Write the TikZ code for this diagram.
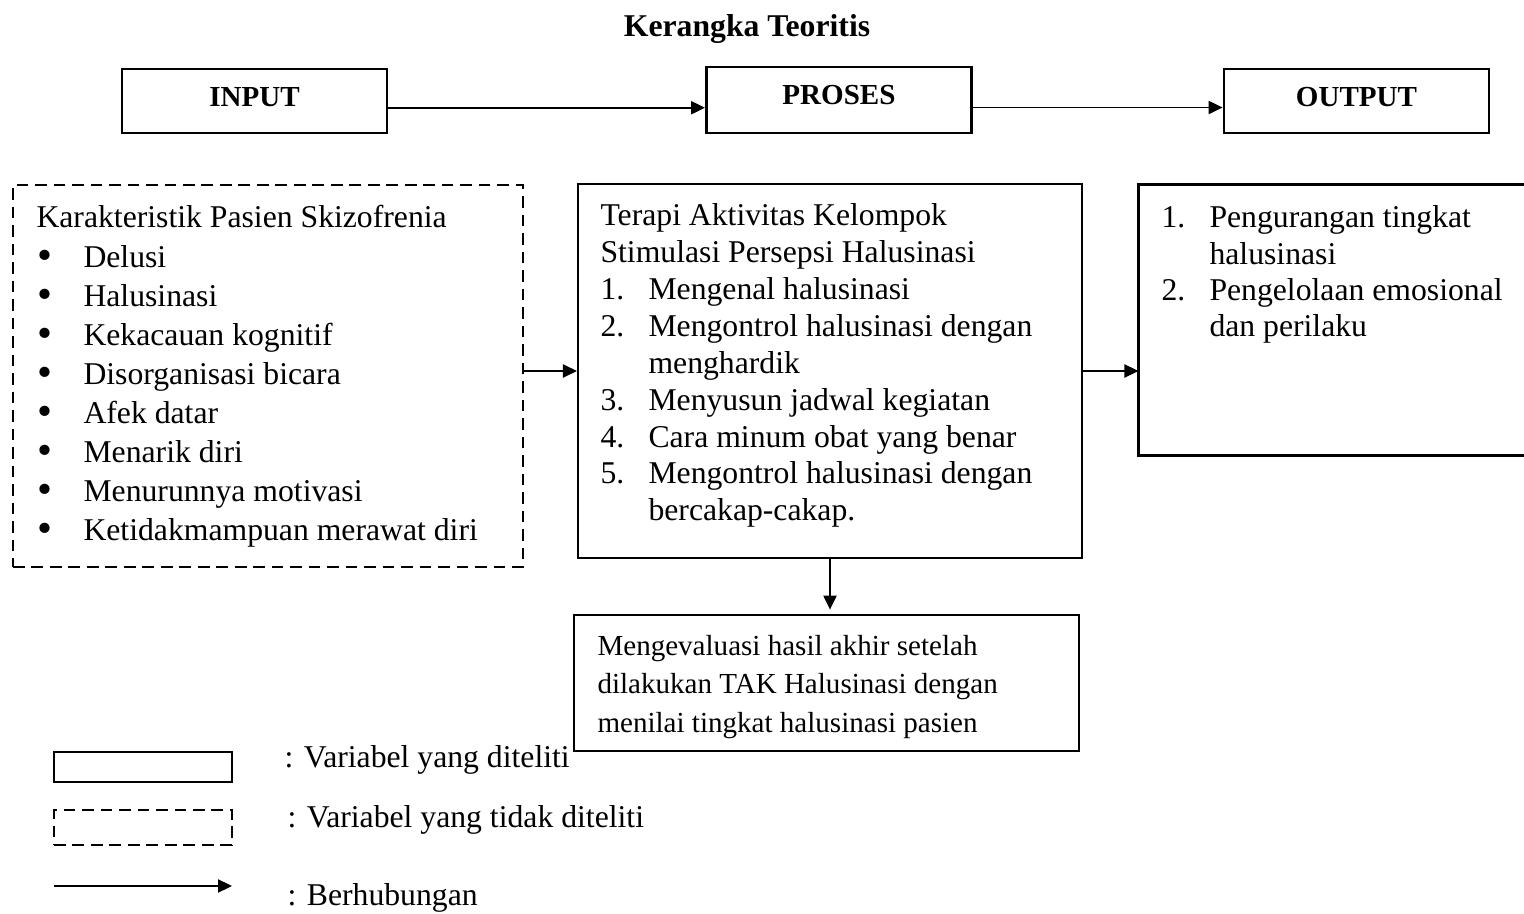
\documentclass[tikz,border=0pt]{standalone}
\usepackage{fontspec}
\setmainfont{Liberation Serif}
\usetikzlibrary{arrows.meta}
\usetikzlibrary{positioning}
\usetikzlibrary{fit}
\tikzset{>={Triangle[length=5.3pt,width=5pt]}}
\newlength{\pxu}
\setlength{\pxu}{0.0133cm}
\tikzset{
    frame/.style={draw, line width=#1, inner sep=0pt},
    frame/.default={0.9pt},
    dframe/.style={draw, line width=1pt, inner sep=0pt, dash pattern=on 4.4pt off 2.6pt},
    hdbox/.style={draw, line width=1.1pt, inner sep=0pt, minimum width=265\pxu, minimum height=64\pxu,
        font=\bfseries\fontsize{11}{13}\selectfont, text depth=3pt},
    arr/.style={->, line width=0.6pt},
    listtxt/.style={anchor=base west, inner sep=0pt},
}
\newcommand{\blt}{\makebox[47\pxu][l]{\hspace{0.8\pxu}\raisebox{-0.8pt}{\scalebox{1.35}{\textbullet}}}}
\newcommand{\nmr}[1]{\makebox[48\pxu][l]{#1}}

\begin{document}
\begin{tikzpicture}[x=0.0133cm, y=-0.0133cm] % kerangka teoritis
	\useasboundingbox (0,0) rectangle (1524,914);
	\node[font=\bfseries\fontsize{12}{14}\selectfont, anchor=base] (judul) at (747,37) {Kerangka Teoritis};
	% baris atas
	\node[hdbox] (input) at (254.5,101) {INPUT};
	\node[hdbox, minimum height=66\pxu, text depth=3.8pt] (proses) at (839,100) {PROSES};
	\node[hdbox] (output) at (1356.5,101) {OUTPUT};
	\coordinate (a1) at ([yshift=-0.09cm]input.east);
	\coordinate (a2) at ([yshift=-0.1cm]proses.east);
	\draw[arr] (a1) -- (a1 -| proses.west);
	\draw[arr] (a2) -- (a2 -| output.west);
	% kotak isi
	\node[dframe, fit={(13,185) (523,567)}] (krt) {};
	\node[frame=0.8pt, fit={(578,184) (1082,558)}] (tak) {};
	\node[inner sep=0pt, fit={(1139,185) (1524,455)}] (hasil) {};
	\draw[line width=1pt] (hasil.north east) -- (hasil.north west) -- (hasil.south west) -- (hasil.south east);
	\node[frame=1.1pt, fit={(574,615) (1079,751)}] (eval) {};
	\node[listtxt, font=\fontsize{12}{14.8}\selectfont] (krttxt) at (36,228) {%
		\begin{tabular}[t]{@{}l@{}l@{}}
		\multicolumn{2}{@{}l@{}}{Karakteristik Pasien Skizofrenia}\\
		\blt & Delusi\\
		\blt & Halusinasi\\
		\blt & Kekacauan kognitif\\
		\blt & Disorganisasi bicara\\
		\blt & Afek datar\\
		\blt & Menarik diri\\
		\blt & Menurunnya motivasi\\
		\blt & Ketidakmampuan merawat diri
		\end{tabular}};
	\node[listtxt, font=\fontsize{12}{13.95}\selectfont] (taktxt) at (600,226) {%
		\begin{tabular}[t]{@{}l@{}l@{}}
		\multicolumn{2}{@{}l@{}}{Terapi Aktivitas Kelompok}\\
		\multicolumn{2}{@{}l@{}}{Stimulasi Persepsi Halusinasi}\\
		\nmr{1.} & Mengenal halusinasi\\
		\nmr{2.} & Mengontrol halusinasi dengan\\
		 & menghardik\\
		\nmr{3.} & Menyusun jadwal kegiatan\\
		\nmr{4.} & Cara minum obat yang benar\\
		\nmr{5.} & Mengontrol halusinasi dengan\\
		 & bercakap-cakap.
		\end{tabular}};
	\node[listtxt, font=\fontsize{12}{13.7}\selectfont] (hasiltxt) at (1161,228) {%
		\begin{tabular}[t]{@{}l@{}l@{}}
		\nmr{1.} & Pengurangan tingkat\\
		 & halusinasi\\
		\nmr{2.} & Pengelolaan emosional\\
		 & dan perilaku
		\end{tabular}};
	\node[listtxt, font=\fontsize{11}{14.7}\selectfont] (evaltxt) at (597,655) {%
		\begin{tabular}[t]{@{}l@{}}
		Mengevaluasi hasil akhir setelah\\
		dilakukan TAK Halusinasi dengan\\
		menilai tingkat halusinasi pasien
		\end{tabular}};
	\draw[arr] (krt.east |- tak.west) -- (tak.west);
	\draw[arr] (tak.east) -- (tak.east -| hasil.west);
	\draw[arr, shorten >=1.5pt] (tak.south) -- (tak.south |- eval.north);
	% keterangan
	\node[frame, fit={(54,752) (232,782)}] (kt1) {};
	\node[dframe, fit={(54,810) (232,845)}] (kt2) {};
	\coordinate (kt3a) at (54,886);
	\coordinate (kt3b) at (232,886);
	\draw[arr] (kt3a) -- (kt3b);
	\node[listtxt, font=\fontsize{12}{14}\selectfont] (kt1txt) at (284,767) {: Variabel yang diteliti};
	\node[listtxt, font=\fontsize{12}{14}\selectfont] (kt2txt) at (287,827) {: Variabel yang tidak diteliti};
	\node[listtxt, font=\fontsize{12}{14}\selectfont] (kt3txt) at (287,905) {: Berhubungan};
\end{tikzpicture}
\end{document}
